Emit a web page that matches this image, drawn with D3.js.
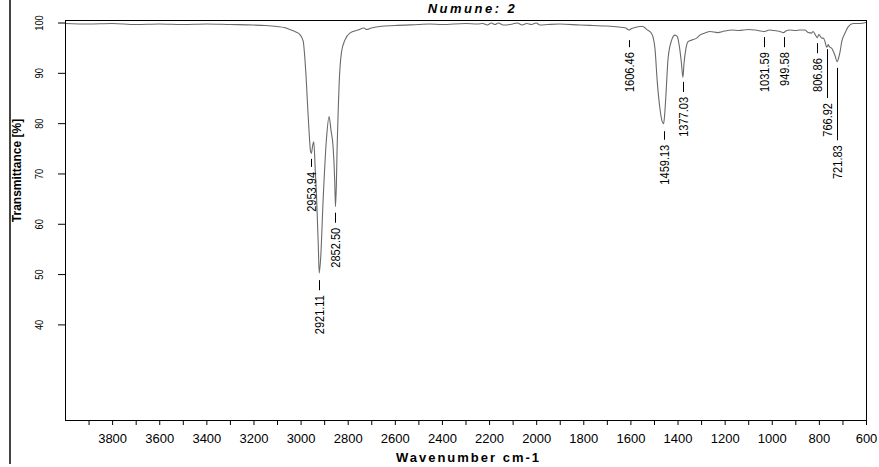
<!DOCTYPE html>
<html>
<head>
<meta charset="utf-8">
<script src="https://cdn.jsdelivr.net/npm/d3@7"></script>
<style>
  body { margin: 0; background: #fff; }
  svg { display: block; }
  .narrow { font-family: "Liberation Sans", Arial, sans-serif; }
  .axis text { fill: #000; }
  .axis line { stroke: #000; }
</style>
</head>
<body>
<svg id="chart"></svg>
<script>
// Spectrum (wavenumber cm-1, transmittance %)
const wavenumbers = [
  4000, 3900, 3800, 3700, 3600, 3500, 3400, 3300, 3200, 3150, 3100, 3070, 3046, 3020, 3003,
  2989, 2982, 2977, 2972, 2964, 2958, 2954, 2949, 2944, 2938, 2932, 2925, 2921, 2915, 2904,
  2890, 2879, 2871, 2862, 2855, 2852, 2848, 2845, 2840, 2836, 2826, 2812, 2791, 2756, 2730,
  2720, 2700, 2664, 2600, 2500, 2451, 2400, 2300, 2250, 2226, 2208, 2190, 2175, 2160, 2140,
  2100, 2080, 2060, 2040, 2020, 2000, 1984, 1950, 1900, 1814, 1759, 1700, 1650, 1620, 1606,
  1595, 1581, 1560, 1547, 1530, 1510, 1496, 1486, 1475, 1465, 1459, 1455, 1450, 1440, 1425,
  1411, 1401, 1393, 1384, 1377, 1373, 1364, 1355, 1340, 1319, 1305, 1284, 1262, 1230, 1200,
  1170, 1140, 1100, 1070, 1031, 1010, 990, 965, 950, 940, 923, 900, 880, 859, 845,
  831, 825, 817, 807, 800, 788, 781, 774, 767, 760, 756, 746, 732, 722, 716,
  710, 703, 689, 675, 654, 625, 600
];
const transmittance = [
  99.8, 99.7, 99.8, 99.6, 99.7, 99.6, 99.7, 99.6, 99.5, 99.4, 99.2, 99.0, 98.6, 98.1, 97.6,
  96.3, 93.0, 89.5, 85.0, 78.3, 74.5, 74.0, 75.5, 76.3, 71.0, 65.1, 56.0, 50.2, 53.0, 65.1,
  77.0, 81.3, 78.6, 75.3, 68.4, 63.4, 68.0, 75.0, 83.0, 88.2, 94.2, 96.5, 97.9, 98.5, 98.9,
  98.6, 98.9, 99.2, 99.4, 99.6, 99.7, 99.6, 99.8, 99.7, 99.8, 99.5, 99.9, 99.6, 99.9, 99.5,
  99.7, 99.9, 99.5, 99.8, 99.6, 99.9, 99.5, 99.6, 99.7, 99.5, 99.4, 99.3, 99.1, 98.9, 98.5,
  98.8, 99.0, 99.2, 99.2, 98.6, 97.8, 94.9, 88.2, 83.0, 80.3, 79.9, 81.5, 85.0, 92.9, 96.5,
  97.5, 97.2, 95.5, 92.2, 89.1, 91.6, 94.9, 96.2, 96.5, 96.9, 97.5, 97.9, 98.2, 98.0, 98.3,
  98.5, 98.4, 98.6, 98.5, 98.2, 98.5, 98.4, 98.2, 98.0, 98.3, 98.5, 98.4, 98.5, 98.5, 98.0,
  97.9, 98.2, 97.7, 97.0, 97.6, 96.9, 96.9, 96.2, 95.1, 95.6, 95.2, 94.9, 93.5, 92.2, 93.0,
  94.2, 96.2, 97.9, 99.2, 99.8, 99.8, 100.0
];

// Peak annotations: label, marker top and bottom (in % T)
const peakLabels = ["2953.94", "2921.11", "2852.50", "1606.46", "1459.13", "1377.03", "1031.59", "949.58", "806.86", "766.92", "721.83"];
const peakTop =    [72.9, 48.8, 62.2, 96.5, 78.4, 88.2, 97.1, 97.1, 95.9, 94.7, 91.0];
const peakBottom = [71.3, 46.8, 60.2, 95.1, 76.7, 86.2, 95.1, 95.1, 93.9, 85.0, 76.6];

// Ticks
const xTicks = d3.range(3900, 599, -100);
const yTicks = [40, 50, 60, 70, 80, 90, 100];

const title = "Numune: 2";
const xLabel = "Wavenumber cm-1";
const yLabel = "Transmittance [%]";

// Configuration
const margin = { top: 20, right: 13, bottom: 47, left: 65 };
const width = 879 - margin.left - margin.right;
const height = 467 - margin.top - margin.bottom;
const squeeze = 0.85; // narrow look of the rotated labels

function createSvg() {
    const root = d3.select("#chart")
        .attr("width", 879)
        .attr("height", 467);

    // dark rule on the far left of the window
    root.append("line")
        .attr("x1", 10).attr("x2", 10)
        .attr("y1", 0).attr("y2", 464)
        .attr("stroke", "#444")
        .attr("stroke-width", 2);

    return root.append("g")
        .attr("transform", `translate(${margin.left},${margin.top})`);
}

function createScales() {
    const xScale = d3.scaleLinear()
        .domain([4000, 600])
        .range([0, width]);

    const yScale = d3.scaleLinear()
        .domain([21.0, 100.5])
        .range([height, 0]);

    return { xScale, yScale };
}

function drawAxes(svg, scales) {
    const { xScale, yScale } = scales;

    const gx = svg.append("g")
        .attr("class", "axis x-axis")
        .attr("transform", `translate(0,${height})`)
        .call(d3.axisBottom(xScale)
            .tickValues(xTicks)
            .tickSize(5)
            .tickPadding(9)
            .tickFormat(d => d % 200 === 0 ? d : ""));
    gx.select(".domain").remove();
    gx.selectAll("text")
        .style("font-family", "'Liberation Sans', Arial, sans-serif")
        .style("font-size", "13px");

    const gy = svg.append("g")
        .attr("class", "axis y-axis narrow")
        .call(d3.axisLeft(yScale).tickValues(yTicks).tickSize(7));
    gy.select(".domain").remove();
    gy.selectAll("text")
        .attr("transform", `rotate(-90) scale(${squeeze},1)`)
        .attr("x", 0)
        .attr("y", -22)
        .attr("dy", 0)
        .style("text-anchor", "middle")
        .style("font-size", "11px");

    // frame
    svg.append("rect")
        .attr("x", 0.5).attr("y", 0.5)
        .attr("width", width).attr("height", height)
        .attr("fill", "none")
        .attr("stroke", "#000");

    svg.append("text")
        .attr("x", width / 2 + 3)
        .attr("y", height + 42)
        .attr("text-anchor", "middle")
        .style("font-family", "'Liberation Sans', Arial, sans-serif")
        .style("font-weight", "bold")
        .style("font-size", "13px")
        .style("letter-spacing", "2px")
        .text(xLabel);

    svg.append("text")
        .attr("transform", `translate(${17 - margin.left},${150.5}) rotate(-90)`)
        .attr("text-anchor", "middle")
        .attr("dy", "0.35em")
        .style("font-family", "'Liberation Sans', Arial, sans-serif")
        .style("font-weight", "bold")
        .style("font-size", "12px")
        .text(yLabel);

    svg.append("text")
        .attr("x", width / 2 + 7)
        .attr("y", -7)
        .attr("text-anchor", "middle")
        .style("font-family", "'Liberation Sans', Arial, sans-serif")
        .style("font-weight", "bold")
        .style("font-style", "italic")
        .style("font-size", "13px")
        .style("letter-spacing", "2.5px")
        .text(title);
}

function drawSpectrum(svg, scales) {
    const { xScale, yScale } = scales;
    const data = wavenumbers.map((w, i) => ({ w, t: transmittance[i] }));

    const line = d3.line()
        .x(d => xScale(d.w))
        .y(d => yScale(d.t))
        .curve(d3.curveMonotoneX);

    svg.append("path")
        .datum(data)
        .attr("fill", "none")
        .attr("stroke", "#6a6a6a")
        .attr("stroke-width", 1.1)
        .attr("d", line);
}

function drawPeakLabels(svg, scales) {
    const { xScale, yScale } = scales;

    peakLabels.forEach((label, i) => {
        const px = Math.round(xScale(+label)) + 0.5;
        const y0 = yScale(peakTop[i]);
        const y1 = yScale(peakBottom[i]);

        svg.append("line")
            .attr("x1", px).attr("x2", px)
            .attr("y1", y0).attr("y2", y1)
            .attr("stroke", "#000");

        svg.append("text")
            .attr("class", "narrow")
            .attr("transform", `translate(${px},${y1 + 5}) rotate(-90) scale(${squeeze},1)`)
            .attr("text-anchor", "end")
            .attr("dy", "0.35em")
            .style("font-size", "13px")
            .text(label);
    });
}

const svg = createSvg();
const scales = createScales();
drawSpectrum(svg, scales);
drawAxes(svg, scales);
drawPeakLabels(svg, scales);
</script>
</body>
</html>
